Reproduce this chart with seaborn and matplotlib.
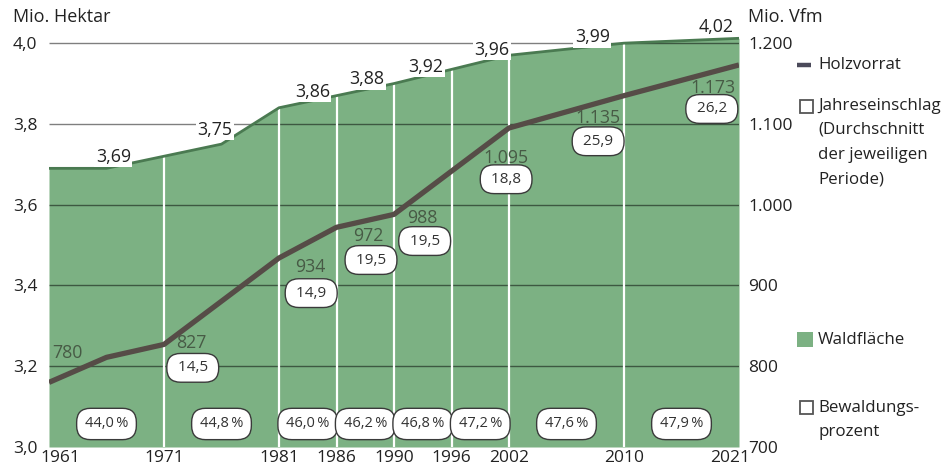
import numpy as np
import matplotlib
matplotlib.use("Agg")
import matplotlib.pyplot as plt
import matplotlib.patches as mpatches
from matplotlib.lines import Line2D
from matplotlib.transforms import ScaledTranslation
import seaborn as sns

# ---------------- data ----------------
period_bounds = [1961, 1971, 1981, 1986, 1990, 1996, 2002, 2010, 2021]
period_slots = [0, 2, 4, 5, 6, 7, 8, 10, 12]          # slot widths of the survey periods on the x axis
xtick_labels = ["1961", "1971", "1981", "1986", "1990", "1996", "2002", "2010", "2021"]

area_years = [1961, 1966, 1976, 1981, 1986, 1990, 1996, 2002, 2010, 2021]
area_values = [3.69, 3.69, 3.75, 3.84, 3.87, 3.90, 3.935, 3.97, 4.00, 4.012]
area_labels = ["3,69", "3,75", "3,86", "3,88", "3,92", "3,96", "3,99", "4,02"]

vorrat_years = [1961, 1966, 1971, 1981, 1986, 1990, 2002, 2010, 2021]
vorrat_values = [780, 811, 827, 934, 972, 988, 1095, 1135, 1173]
vorrat_labels = ["780", "827", "934", "972", "988", "1.095", "1.135", "1.173"]

einschlag_labels = ["14,5", "14,9", "19,5", "19,5", "18,8", "25,9", "26,2"]
bewaldung_labels = ["44,0\u2009%", "44,8\u2009%", "46,0\u2009%", "46,2\u2009%",
                    "46,8\u2009%", "47,2\u2009%", "47,6\u2009%", "47,9\u2009%"]

left_ticks = [3.0, 3.2, 3.4, 3.6, 3.8, 4.0]
left_ticklabels = ["3,0", "3,2", "3,4", "3,6", "3,8", "4,0"]
right_ticks = [700, 800, 900, 1000, 1100, 1200]
right_ticklabels = ["700", "800", "900", "1.000", "1.100", "1.200"]

# label anchor positions (layout)
area_label_pos = [(1966.6, 3.718), (1975.4, 3.785), (1983.9, 3.879), (1988.1, 3.911),
                  (1993.3, 3.941), (2000.2, 3.983), (2007.8, 4.015), (2018.8, 4.040)]
vorrat_label_pos = [(1962.6, 3.233), (1973.4, 3.257), (1983.7, 3.446), (1988.2, 3.522),
                    (1993.0, 3.567), (2001.7, 3.715), (2008.2, 3.814), (2018.5, 3.889)]
einschlag_pos = [(1973.5, 3.196), (1983.8, 3.381), (1988.4, 3.463), (1993.2, 3.510),
                 (2001.7, 3.663), (2008.2, 3.757), (2018.4, 3.837)]
bewaldung_x = [1966, 1976, 1983.5, 1988, 1993, 1999, 2006, 2015.5]
bewaldung_y = 3.057

# ---------------- style ----------------
sns.set_style("white")
plt.rcParams["font.family"] = ["Open Sans", "DejaVu Sans"]

GREEN = "#7cb183"
EDGE_GREEN = "#4a7a51"
LINE_COL = "#564c47"
TXT = "#222222"
VAL_COL = "#475a45"

W, H = 941, 468
fig = plt.figure(figsize=(W / 100, H / 100), dpi=100)
ax = fig.add_axes([49 / W, 21 / H, 690 / W, 420 / H])
ax2 = ax.twinx()

# area (Waldfläche)
ax.fill_between(area_years, 3.0, area_values, color=GREEN, lw=0, zorder=1)
# horizontal grid lines
ax.hlines(left_ticks[1:], period_bounds[0], period_bounds[-1], colors="black",
          alpha=0.5, lw=1.0, zorder=2)
# white period separators inside area
tops = np.interp(period_bounds[1:-1], area_years, area_values)
ax.vlines(period_bounds[1:-1], 3.0, tops, colors="white", lw=1.6, zorder=3)
sns.lineplot(x=area_years, y=area_values, ax=ax, color=EDGE_GREEN, lw=2.0,
             sort=False, zorder=4, legend=False)

# Holzvorrat line
sns.lineplot(x=vorrat_years, y=vorrat_values, ax=ax2, color=LINE_COL, lw=3.8,
             sort=False, legend=False, solid_capstyle="butt")

# scale: survey periods get fixed slot widths
fwd = lambda x: np.interp(x, period_bounds, period_slots)
inv = lambda x: np.interp(x, period_slots, period_bounds)
ax.set_xscale("function", functions=(fwd, inv))
ax.set_xlim(period_bounds[0], period_bounds[-1])
ax.set_ylim(3.0, 4.04)
ax2.set_ylim(700, 700 + 500 * 1.04)

for a in (ax, ax2):
    for s in a.spines.values():
        s.set_visible(False)
    a.set_xlabel("")
    a.set_ylabel("")

ax.set_xticks(period_bounds)
ax.set_xticklabels(xtick_labels)
ax.set_yticks(left_ticks)
ax.set_yticklabels(left_ticklabels)
ax2.set_yticks(right_ticks)
ax2.set_yticklabels(right_ticklabels)
ax.tick_params(axis="x", length=0, pad=2.5, labelsize=12.5, labelcolor=TXT)
ax.tick_params(axis="y", length=0, pad=8.5, labelsize=12.5, labelcolor=TXT)
ax2.tick_params(axis="y", length=0, pad=6.5, labelsize=12.5, labelcolor=TXT)
ax.minorticks_off()

xl = ax.get_xticklabels()
xl[0].set_transform(xl[0].get_transform() + ScaledTranslation(0.11, 0, fig.dpi_scale_trans))
xl[-1].set_transform(xl[-1].get_transform() + ScaledTranslation(-0.09, 0, fig.dpi_scale_trans))

# area labels
for (x, y), t in zip(area_label_pos, area_labels):
    ax.text(x, y, t, ha="center", va="center", fontsize=12.8, color=TXT, zorder=6,
            bbox=dict(boxstyle="square,pad=0.08", fc="white", ec="none"))

# Holzvorrat value labels
for (x, y), t in zip(vorrat_label_pos, vorrat_labels):
    ax.text(x, y, t, ha="center", va="center", fontsize=12.8, color=VAL_COL, zorder=6)

# Jahreseinschlag boxes
for (x, y), t in zip(einschlag_pos, einschlag_labels):
    ax.text(x, y, " " + t + " ", ha="center", va="center", fontsize=11, color="#333333",
            zorder=6, bbox=dict(boxstyle="round,pad=0.45,rounding_size=0.9",
                                fc="white", ec="#3a3a3a", lw=1.0))

# Bewaldungsprozent boxes
for x, t in zip(bewaldung_x, bewaldung_labels):
    ax.text(x, bewaldung_y, t, ha="center", va="center", fontsize=10.5, color="#333333",
            zorder=6, bbox=dict(boxstyle="round,pad=0.56,rounding_size=0.95",
                                fc="white", ec="#3a3a3a", lw=1.0))

# axis titles
fig.text(13 / W, 1 - 17 / H, "Mio. Hektar", ha="left", va="center", fontsize=13, color=TXT)
fig.text(823 / W, 1 - 17 / H, "Mio. Vfm", ha="right", va="center", fontsize=13, color=TXT)

# legend (manual)
def fy(y):
    return 1 - y / H

fig.add_artist(Line2D([797 / W, 811 / W], [fy(65), fy(65)], lw=3.2, color="#4b4a5a",
                      solid_capstyle="butt", transform=fig.transFigure))
fig.add_artist(mpatches.Rectangle((800 / W, fy(113)), 13 / W, 13 / H, fill=False,
                                  ec="#555555", lw=1.3, transform=fig.transFigure))
fig.add_artist(mpatches.Rectangle((797 / W, fy(347)), 16 / W, 15 / H, fc=GREEN,
                                  ec="none", transform=fig.transFigure))
fig.add_artist(mpatches.Rectangle((800 / W, fy(414)), 13 / W, 13 / H, fill=False,
                                  ec="#555555", lw=1.3, transform=fig.transFigure))

legend_lines = [("Holzvorrat", 65), ("Jahreseinschlag", 106), ("(Durchschnitt", 130),
                ("der jeweiligen", 155), ("Periode)", 179), ("Waldfläche", 340),
                ("Bewaldungs-", 408), ("prozent", 432)]
for t, y in legend_lines:
    fig.text(818 / W, fy(y), t, ha="left", va="center", fontsize=12.2, color=TXT)

fig.savefig("out.png", dpi=100)
